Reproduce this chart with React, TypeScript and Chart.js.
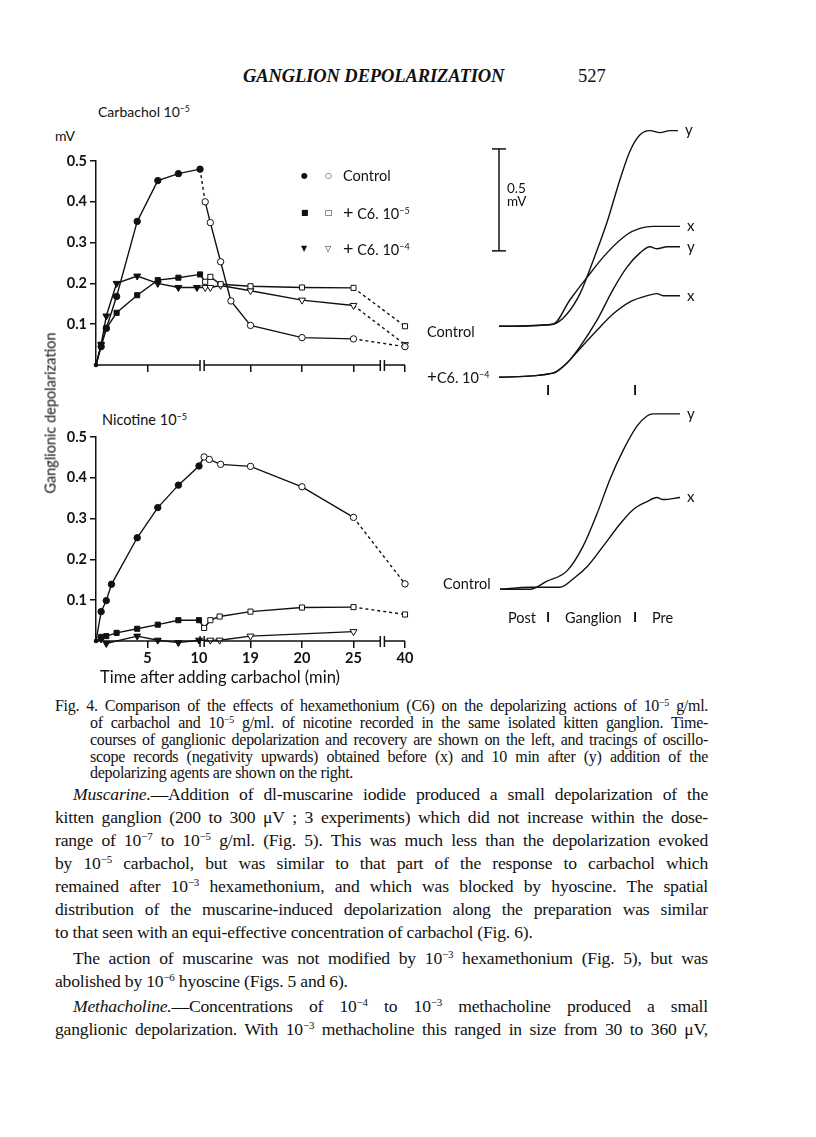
import React, { useEffect, useRef } from 'react';
import { Chart, registerables } from 'chart.js';
Chart.register(...registerables);

// ---------- Left charts: shared x axis ----------
const X_TICK_LABELS = ['', '5', '10', '19', '20', '25', '40'];
const X_TICK_MARKS = [5, 15, 20, 25, 30];
const AXIS_BREAKS = [10.1, 10.5, 27.6, 28.0];

// ---------- Carbachol 10^-5 ----------
const CARB_CTRL_T = [0, 0.5, 1, 2, 4, 6, 8, 10.1, 10.6, 11.1, 12.1, 13.1, 15, 20, 25, 30];
const CARB_CTRL_V = [0, 0.045, 0.09, 0.168, 0.352, 0.452, 0.469, 0.48, 0.4, 0.349, 0.253, 0.157, 0.097, 0.067, 0.064, 0.045];
const CARB_CTRL_OPEN_FROM = 8;
const CARB_CTRL_DASHED = [7, 14];

const CARB_C6A_T = [0, 0.5, 1, 2, 4, 6, 8, 10.1, 10.6, 11.1, 12.1, 15, 20, 25, 30];
const CARB_C6A_V = [0, 0.05, 0.09, 0.128, 0.171, 0.208, 0.214, 0.222, 0.204, 0.216, 0.198, 0.193, 0.19, 0.189, 0.095];
const CARB_C6A_OPEN_FROM = 8;
const CARB_C6A_DASHED = [13];

const CARB_C6B_T = [0, 0.5, 1, 2, 4, 6, 8, 9.8, 10.6, 11.1, 12.1, 15, 20, 25, 30];
const CARB_C6B_V = [0, 0.05, 0.12, 0.2, 0.218, 0.2, 0.19, 0.19, 0.19, 0.19, 0.195, 0.182, 0.159, 0.146, 0.05];
const CARB_C6B_OPEN_FROM = 8;
const CARB_C6B_DASHED = [13];

// ---------- Nicotine 10^-5 ----------
const NIC_CTRL_T = [0, 0.5, 1, 1.5, 4, 6, 8, 10, 10.5, 11, 12.1, 15, 20, 25, 30];
const NIC_CTRL_V = [0, 0.072, 0.099, 0.139, 0.253, 0.327, 0.382, 0.429, 0.451, 0.445, 0.433, 0.428, 0.378, 0.303, 0.14];
const NIC_CTRL_OPEN_FROM = 8;
const NIC_CTRL_DASHED = [13];

const NIC_C6A_T = [0, 0.5, 1, 2, 4, 6, 8, 10, 10.5, 11.1, 12, 15, 20, 25, 30];
const NIC_C6A_V = [0, 0.01, 0.012, 0.02, 0.03, 0.04, 0.051, 0.051, 0.032, 0.051, 0.06, 0.072, 0.082, 0.083, 0.065];
const NIC_C6A_OPEN_FROM = 8;
const NIC_C6A_DASHED = [13];

const NIC_C6B_T = [0, 0.5, 1, 4, 6, 8, 10, 11.1, 12, 15, 25];
const NIC_C6B_V = [0, 0.005, -0.006, 0.012, 0.002, -0.004, 0.002, 0.002, 0.002, 0.012, 0.023];
const NIC_C6B_OPEN_FROM = 7;
const NIC_C6B_DASHED: number[] = [];

// ---------- Right: oscilloscope tracings (position units, mV) ----------
const TOP_CTRL_X_POS = [79, 133, 150, 167, 187, 207, 220, 233, 240, 247, 260];
const TOP_CTRL_X_MV = [1.49, 1.5, 1.62, 1.73, 1.85, 1.94, 1.97, 1.98, 1.98, 1.98, 1.98];
const TOP_CTRL_Y_POS = [79, 133, 147, 160, 173, 187, 200, 210, 220, 230, 240, 250, 258];
const TOP_CTRL_Y_MV = [1.49, 1.5, 1.55, 1.65, 1.81, 2.0, 2.21, 2.35, 2.43, 2.45, 2.44, 2.45, 2.45];
const TOP_C6_X_POS = [79, 133, 147, 160, 177, 193, 210, 227, 237, 243, 253, 260];
const TOP_C6_X_MV = [1.24, 1.26, 1.31, 1.38, 1.47, 1.55, 1.61, 1.64, 1.65, 1.64, 1.64, 1.64];
const TOP_C6_Y_POS = [79, 133, 147, 160, 177, 193, 207, 220, 230, 237, 247, 260];
const TOP_C6_Y_MV = [1.24, 1.26, 1.31, 1.39, 1.52, 1.67, 1.78, 1.85, 1.88, 1.87, 1.88, 1.88];
const NIC_TR_X_POS = [80, 110, 140, 153, 167, 183, 200, 213, 227, 237, 243, 260];
const NIC_TR_X_MV = [0.2, 0.21, 0.21, 0.25, 0.31, 0.41, 0.52, 0.59, 0.63, 0.65, 0.64, 0.65];
const NIC_TR_Y_POS = [80, 110, 127, 147, 163, 177, 190, 203, 217, 227, 233, 243, 260];
const NIC_TR_Y_MV = [0.2, 0.2, 0.24, 0.29, 0.41, 0.57, 0.74, 0.88, 1.0, 1.05, 1.06, 1.06, 1.06];
const SCALE_BAR_POS = 79;
const SCALE_BAR_MV = [1.86, 2.36];

const SANS = 'Lato, "Open Sans", sans-serif';
const SERIF = '"Liberation Serif", "DejaVu Serif", serif';
const INK = '#111';

const axisBreaksPlugin = {
  id: 'axisBreaks',
  afterDatasetsDraw(chart: any, _a: any, opts: any) {
    const { ctx } = chart;
    const xs = chart.scales.x;
    const ys = chart.scales.y;
    const y0 = ys.getPixelForValue(0);
    const b = (opts.breaks || []).map((v: number) => xs.getPixelForValue(v));
    const stops = [xs.left, ...b, xs.right];
    ctx.save();
    ctx.strokeStyle = INK;
    ctx.lineWidth = 1.5;
    ctx.beginPath();
    for (let i = 0; i + 1 < stops.length; i += 2) {
      ctx.moveTo(stops[i], y0);
      ctx.lineTo(stops[i + 1], y0);
    }
    b.forEach((px: number) => {
      ctx.moveTo(px, y0 - 5);
      ctx.lineTo(px, y0 + 6);
    });
    ctx.stroke();
    ctx.restore();
  },
};

const traceLabelPlugin = {
  id: 'traceLabels',
  afterDatasetsDraw(chart: any) {
    const { ctx } = chart;
    ctx.save();
    ctx.fillStyle = INK;
    ctx.font = '15px ' + SANS;
    ctx.textBaseline = 'middle';
    chart.data.datasets.forEach((ds: any, i: number) => {
      if (ds.label !== 'x' && ds.label !== 'y') return;
      const pts = chart.getDatasetMeta(i).data;
      const last = pts[pts.length - 1];
      ctx.fillText(ds.label, last.x + 7, last.y);
    });
    ctx.restore();
  },
};

function series(t: number[], v: number[], openFrom: number, dashed: number[], style: string, rotation = 0) {
  const r = style === 'circle' ? 3.2 : style === 'rect' ? 3.6 : 4;
  return {
    showLine: true,
    data: t.map((x, i) => ({ x, y: v[i] })),
    borderColor: INK,
    borderWidth: 1.4,
    pointStyle: style,
    rotation,
    pointRadius: (c: any) => (c.dataIndex === 0 ? 1.8 : r),
    pointBackgroundColor: (c: any) => (c.dataIndex >= openFrom ? '#fff' : INK),
    pointBorderColor: INK,
    pointBorderWidth: 1,
    segment: {
      borderDash: (c: any) => (dashed.includes(c.p0DataIndex) ? [3, 3] : undefined),
    },
    clip: false,
  };
}

function LeftChart({ datasets, showLabels, padTop, xHeight, w, h }: any) {
  const ref = useRef<HTMLCanvasElement>(null);
  useEffect(() => {
    const tickFont = { family: SANS, size: 14.5, weight: 'bold' };
    const chart = new Chart(ref.current as HTMLCanvasElement, {
      type: 'scatter',
      data: { datasets },
      plugins: [axisBreaksPlugin as any],
      options: {
        responsive: false,
        animation: false,
        layout: { autoPadding: false, padding: { top: padTop, right: 15, left: 0, bottom: 0 } },
        plugins: { legend: { display: false }, tooltip: { enabled: false }, axisBreaks: { breaks: AXIS_BREAKS } } as any,
        scales: {
          x: {
            type: 'linear',
            min: 0,
            max: 30,
            afterFit: (s: any) => { s.height = xHeight; },
            border: { display: false },
            grid: {
              drawOnChartArea: false,
              drawTicks: true,
              tickLength: 7,
              lineWidth: 1.5,
              color: (c: any) => (c.tick && X_TICK_MARKS.includes(c.tick.value) ? INK : 'rgba(0,0,0,0)'),
            },
            ticks: {
              stepSize: 5,
              autoSkip: false,
              maxRotation: 0,
              padding: 2,
              color: INK,
              font: tickFont,
              callback: (v: any) => (showLabels ? X_TICK_LABELS[Math.round(Number(v) / 5)] ?? '' : ''),
            },
          },
          y: {
            type: 'linear',
            min: 0,
            max: 0.5,
            afterFit: (s: any) => { s.width = 56; },
            border: { display: true, color: INK, width: 1.5 },
            grid: {
              drawOnChartArea: false,
              drawTicks: true,
              tickLength: 6,
              lineWidth: 1.5,
              color: (c: any) => (c.tick && c.tick.value > 0.001 ? INK : 'rgba(0,0,0,0)'),
            },
            ticks: {
              stepSize: 0.1,
              padding: 3,
              color: INK,
              font: tickFont,
              callback: (v: any) => (Number(v) > 0.001 ? Number(v).toFixed(1) : ''),
            },
          },
        },
      } as any,
    });
    return () => chart.destroy();
  }, []);
  return <canvas ref={ref} width={w} height={h} />;
}

function TraceChart() {
  const ref = useRef<HTMLCanvasElement>(null);
  useEffect(() => {
    const tr = (pos: number[], mv: number[], label: string) => ({
      label,
      showLine: true,
      data: pos.map((x, i) => ({ x, y: mv[i] })),
      borderColor: INK,
      borderWidth: 1.4,
      pointRadius: 0,
      cubicInterpolationMode: 'monotone',
      clip: false,
    });
    const chart = new Chart(ref.current as HTMLCanvasElement, {
      type: 'scatter',
      data: {
        datasets: [
          tr(TOP_CTRL_Y_POS, TOP_CTRL_Y_MV, 'y'),
          tr(TOP_CTRL_X_POS, TOP_CTRL_X_MV, 'x'),
          tr(TOP_C6_Y_POS, TOP_C6_Y_MV, 'y'),
          tr(TOP_C6_X_POS, TOP_C6_X_MV, 'x'),
          tr(NIC_TR_Y_POS, NIC_TR_Y_MV, 'y'),
          tr(NIC_TR_X_POS, NIC_TR_X_MV, 'x'),
          {
            label: 'bar',
            showLine: true,
            data: SCALE_BAR_MV.map((y) => ({ x: SCALE_BAR_POS, y })),
            borderColor: INK,
            borderWidth: 1.5,
            pointStyle: 'line',
            pointRadius: 7,
            pointBorderWidth: 1.5,
            pointBorderColor: INK,
            clip: false,
          },
        ] as any,
      },
      plugins: [traceLabelPlugin as any],
      options: {
        responsive: false,
        animation: false,
        layout: { autoPadding: false, padding: 0 },
        plugins: { legend: { display: false }, tooltip: { enabled: false } },
        scales: {
          x: { type: 'linear', min: 0, max: 300, display: false },
          y: { type: 'linear', min: 0, max: 2.6, display: false },
        },
      } as any,
    });
    return () => chart.destroy();
  }, []);
  return <canvas ref={ref} width={300} height={530} />;
}

const Sup = ({ children }: any) => (
  <span style={{ fontSize: '0.62em', verticalAlign: '0.55em', lineHeight: 0 }}>{children}</span>
);

function T({ x, y, size = 13, children, style = {}, font = SANS }: any) {
  return (
    <div
      style={{
        position: 'absolute',
        left: x,
        top: y - size * 0.62,
        fontSize: size,
        lineHeight: `${size * 1.2}px`,
        fontFamily: font,
        color: INK,
        whiteSpace: 'nowrap',
        ...style,
      }}
    >
      {children}
    </div>
  );
}

function Line({ x, y, w, size, children, justify = true, ls = -0.2 }: any) {
  return (
    <div
      style={{
        position: 'absolute',
        left: x,
        top: y - size * 0.62,
        width: w,
        fontSize: size,
        lineHeight: `${size * 1.2}px`,
        fontFamily: SERIF,
        color: INK,
        letterSpacing: ls,
        whiteSpace: 'nowrap',
        textAlign: justify ? 'justify' : 'left',
        textAlignLast: justify ? 'justify' : 'left',
      }}
    >
      {children}
    </div>
  );
}

export default function App() {
  const topSets = [
    series(CARB_CTRL_T, CARB_CTRL_V, CARB_CTRL_OPEN_FROM, CARB_CTRL_DASHED, 'circle'),
    series(CARB_C6A_T, CARB_C6A_V, CARB_C6A_OPEN_FROM, CARB_C6A_DASHED, 'rect'),
    series(CARB_C6B_T, CARB_C6B_V, CARB_C6B_OPEN_FROM, CARB_C6B_DASHED, 'triangle', 180),
  ];
  const botSets = [
    series(NIC_CTRL_T, NIC_CTRL_V, NIC_CTRL_OPEN_FROM, NIC_CTRL_DASHED, 'circle'),
    series(NIC_C6A_T, NIC_C6A_V, NIC_C6A_OPEN_FROM, NIC_C6A_DASHED, 'rect'),
    series(NIC_C6B_T, NIC_C6B_V, NIC_C6B_OPEN_FROM, NIC_C6B_DASHED, 'triangle', 180),
  ];
  const cap = 16;
  const body = 17.6;
  const sym = { fontFamily: '"DejaVu Sans", sans-serif', fontSize: 8 };
  return (
    <div style={{ position: 'absolute', left: 0, top: 0, width: 816, height: 1137, background: '#fff', overflow: 'hidden' }}>
      {/* running header */}
      <T x={243} y={76} size={18.5} font={SERIF} style={{ fontStyle: 'italic', fontWeight: 'bold', letterSpacing: -0.1 }}>GANGLION DEPOLARIZATION</T>
      <T x={578} y={76} size={18.5} font={SERIF}>527</T>

      {/* left charts */}
      <T x={98} y={113} size={14}>Carbachol 10<Sup>−5</Sup></T>
      <T x={55} y={137} size={14}>mV</T>
      <div style={{ position: 'absolute', left: 40, top: 140 }}>
        <LeftChart datasets={topSets} showLabels={false} padTop={21} xHeight={35} w={380} h={260} />
      </div>
      {/* legend */}
      <T x={301} y={176} style={sym}>●</T>
      <T x={325} y={176} style={sym}>○</T>
      <T x={343} y={176} size={14.5}>Control</T>
      <T x={301} y={213} style={sym}>■</T>
      <T x={325} y={213} style={sym}>□</T>
      <T x={343} y={213} size={14.5}><span style={{ fontSize: 18 }}>+</span> C6. 10<Sup>−5</Sup></T>
      <T x={301} y={249} style={sym}>▼</T>
      <T x={325} y={249} style={sym}>▽</T>
      <T x={343} y={249} size={14.5}><span style={{ fontSize: 18 }}>+</span> C6. 10<Sup>−4</Sup></T>

      <div style={{ position: 'absolute', left: 50, top: 413, width: 0, height: 0 }}>
        <div style={{ position: 'absolute', transform: 'translate(-50%,-50%) rotate(-90deg)', fontFamily: SANS, fontSize: 14.5, whiteSpace: 'nowrap', color: INK }}>
          Ganglionic depolarization
        </div>
      </div>

      <T x={102} y={420} size={14.5}>Nicotine 10<Sup>−5</Sup></T>
      <div style={{ position: 'absolute', left: 40, top: 420 }}>
        <LeftChart datasets={botSets} showLabels={true} padTop={17} xHeight={29} w={380} h={250} />
      </div>
      <T x={100} y={678} size={16.5}>Time after adding carbachol (min)</T>

      {/* right tracings */}
      <div style={{ position: 'absolute', left: 420, top: 100 }}>
        <TraceChart />
      </div>
      <T x={507} y={188} size={13.5}>0.5</T>
      <T x={507} y={201} size={13.5}>mV</T>
      <T x={427} y={332} size={14.5}>Control</T>
      <T x={427} y={377} size={14.5}><span style={{ fontSize: 17 }}>+</span>C6. 10<Sup>−4</Sup></T>
      <T x={546} y={391} size={14} style={{ fontWeight: 'bold' }}>I</T>
      <T x={633} y={391} size={14} style={{ fontWeight: 'bold' }}>I</T>
      <T x={443} y={584} size={14.5}>Control</T>
      <T x={508} y={618} size={14.5}>Post</T>
      <T x={546} y={618} size={14} style={{ fontWeight: 'bold' }}>I</T>
      <T x={565} y={618} size={14.5}>Ganglion</T>
      <T x={633} y={618} size={14} style={{ fontWeight: 'bold' }}>I</T>
      <T x={652} y={618} size={14.5}>Pre</T>

      {/* caption */}
      <Line x={55} y={706} w={653} size={cap} ls={-0.3}>Fig. 4. Comparison of the effects of hexamethonium (C6) on the depolarizing actions of 10<Sup>−5</Sup> g/ml.</Line>
      <Line x={90} y={723} w={618} size={cap} ls={-0.3}>of carbachol and 10<Sup>−5</Sup> g/ml. of nicotine recorded in the same isolated kitten ganglion. Time-</Line>
      <Line x={90} y={740} w={618} size={cap} ls={-0.3}>courses of ganglionic depolarization and recovery are shown on the left, and tracings of oscillo-</Line>
      <Line x={90} y={757} w={618} size={cap} ls={-0.3}>scope records (negativity upwards) obtained before (x) and 10 min after (y) addition of the</Line>
      <Line x={90} y={773} w={618} size={cap} ls={-0.3} justify={false}>depolarizing agents are shown on the right.</Line>

      {/* body */}
      <Line x={73} y={795} w={635} size={body}><i>Muscarine.</i>—Addition of dl-muscarine iodide produced a small depolarization of the</Line>
      <Line x={55} y={818} w={653} size={body}>kitten ganglion (200 to 300 μV ; 3 experiments) which did not increase within the dose-</Line>
      <Line x={55} y={841} w={653} size={body}>range of 10<Sup>−7</Sup> to 10<Sup>−5</Sup> g/ml. (Fig. 5).  This was much less than the depolarization evoked</Line>
      <Line x={55} y={864} w={653} size={body}>by 10<Sup>−5</Sup> carbachol, but was similar to that part of the response to carbachol which</Line>
      <Line x={55} y={887} w={653} size={body}>remained after 10<Sup>−3</Sup> hexamethonium, and which was blocked by hyoscine.  The spatial</Line>
      <Line x={55} y={910} w={653} size={body}>distribution of the muscarine-induced depolarization along the preparation was similar</Line>
      <Line x={55} y={933} w={653} size={body} justify={false}>to that seen with an equi-effective concentration of carbachol (Fig. 6).</Line>
      <Line x={73} y={959} w={635} size={body}>The action of muscarine was not modified by 10<Sup>−3</Sup> hexamethonium (Fig. 5), but was</Line>
      <Line x={55} y={982} w={653} size={body} justify={false}>abolished by 10<Sup>−6</Sup> hyoscine (Figs. 5 and 6).</Line>
      <Line x={73} y={1007} w={635} size={body}><i>Methacholine.</i>—Concentrations of 10<Sup>−4</Sup> to 10<Sup>−3</Sup> methacholine produced a small</Line>
      <Line x={55} y={1030} w={653} size={body}>ganglionic depolarization.  With 10<Sup>−3</Sup> methacholine this ranged in size from 30 to 360 μV,</Line>
    </div>
  );
}
